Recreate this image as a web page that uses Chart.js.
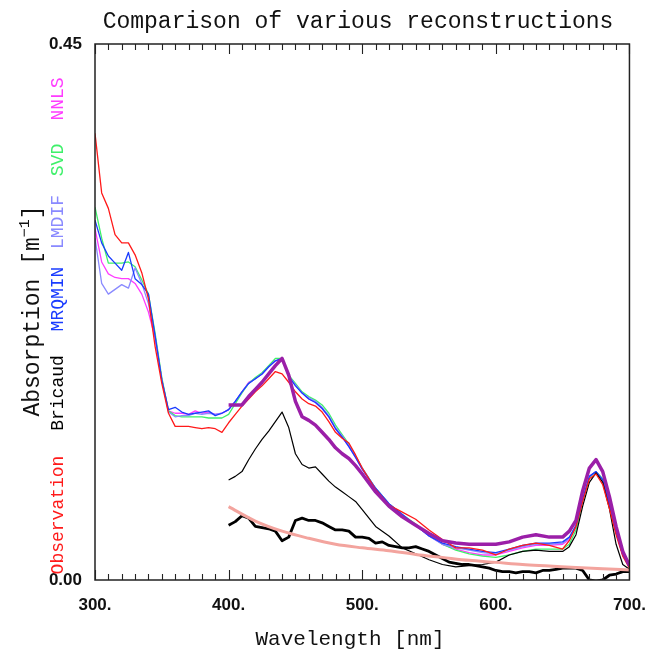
<!DOCTYPE html>
<html><head><meta charset="utf-8">
<script src="https://cdn.jsdelivr.net/npm/chart.js@4"></script>
<style>html,body{margin:0;padding:0;background:#fff}canvas{display:block}</style>
</head><body>
<canvas id="c" width="661" height="659"></canvas>
<script>
// ---------- DATA ----------
const fullWl = [300,305,310,315,320,325,330,335,340,345,350,355,360,365,370,375,380,385,390,395,
  400,405,410,415,420,425,430,435,440,445,450,455,460,465,470,475,480,485,490,495,500,
  510,520,530,540,550,560,570,580,590,600,610,620,630,640,650,
  655,660,665,670,675,680,685,690,695,700];
const visWl = [400,405,410,415,420,425,430,435,440,445,450,455,460,465,470,475,480,485,490,495,500,
  510,520,530,540,550,560,570,580,590,600,610,620,630,640,650,
  655,660,665,670,675,680,685,690,695,700];
const thickWl = [400,405,410,415,420,425,430,435,440,445,450,455,460,465,470,475,480,485,490,495,
  500,505,510,515,520,525,530,535,540,545,550,555,560,565,570,575,580,585,590,595,
  600,605,610,615,620,625,630,635,640,645,650,655,660,665,670,675,680,685,690,695,700];
const pinkWl = [400,420,440,460,480,500,520,540,560,580,600,620,640,660,680,700];

const observation = [0.375,0.325,0.312,0.290,0.283,0.283,0.273,0.258,0.236,0.196,0.165,0.140,0.129,0.129,0.129,0.128,0.127,0.128,0.127,0.124,
  0.132,0.139,0.146,0.152,0.158,0.163,0.169,0.175,0.173,0.166,0.158,0.152,0.148,0.146,0.141,0.133,0.124,0.119,0.115,0.105,0.094,
  0.076,0.063,0.057,0.051,0.042,0.034,0.027,0.027,0.025,0.021,0.026,0.029,0.031,0.029,0.026,
  0.033,0.045,0.066,0.085,0.089,0.080,0.060,0.038,0.020,0.010];
const mrqmin = [0.302,0.283,0.272,0.266,0.260,0.275,0.253,0.248,0.240,0.205,0.168,0.143,0.145,0.141,0.139,0.140,0.141,0.142,0.138,0.140,
  0.143,0.150,0.158,0.165,0.169,0.173,0.179,0.184,0.186,0.171,0.163,0.157,0.152,0.149,0.144,0.137,0.127,0.120,0.112,0.103,0.093,
  0.077,0.064,0.055,0.046,0.037,0.031,0.028,0.026,0.024,0.023,0.026,0.029,0.031,0.031,0.032,
  0.036,0.046,0.068,0.087,0.091,0.084,0.064,0.040,0.021,0.011];
const lmdif = [0.287,0.249,0.240,0.244,0.248,0.245,0.262,0.249,0.232,0.204,0.168,0.141,0.137,0.138,0.138,0.140,0.139,0.140,0.139,0.140,
  0.143,0.150,0.158,0.165,0.169,0.173,0.179,0.184,0.185,0.171,0.164,0.157,0.153,0.150,0.145,0.138,0.128,0.121,0.113,0.104,0.094,
  0.077,0.064,0.055,0.046,0.037,0.030,0.027,0.025,0.023,0.022,0.025,0.028,0.030,0.030,0.031,
  0.035,0.046,0.068,0.087,0.091,0.084,0.064,0.040,0.021,0.011];
const svd = [0.313,0.287,0.266,0.266,0.266,0.267,0.263,0.252,0.240,0.207,0.170,0.142,0.138,0.137,0.137,0.137,0.137,0.136,0.136,0.136,
  0.139,0.148,0.157,0.165,0.170,0.174,0.180,0.186,0.186,0.172,0.165,0.158,0.154,0.151,0.147,0.140,0.130,0.122,0.114,0.104,0.094,
  0.077,0.064,0.055,0.047,0.038,0.030,0.025,0.022,0.020,0.019,0.021,0.024,0.026,0.026,0.026,
  0.030,0.042,0.066,0.086,0.091,0.085,0.066,0.042,0.022,0.012];
const nnls = [0.295,0.267,0.257,0.254,0.253,0.253,0.249,0.240,0.225,0.203,0.168,0.142,0.140,0.140,0.139,0.142,0.140,0.141,0.139,0.140,
  0.143,0.150,0.158,0.166,0.169,0.173,0.179,0.184,0.186,0.171,0.164,0.157,0.152,0.149,0.144,0.137,0.127,0.120,0.112,0.103,0.093,
  0.077,0.063,0.054,0.046,0.037,0.030,0.026,0.023,0.021,0.021,0.024,0.027,0.029,0.029,0.030,
  0.034,0.045,0.067,0.087,0.091,0.084,0.064,0.040,0.021,0.011];
const totalFit = [0.147,0.147,0.147,0.154,0.160,0.166,0.173,0.180,0.186,0.172,0.150,0.137,0.134,0.130,0.124,0.118,0.111,0.106,0.102,0.096,0.089,
  0.074,0.062,0.053,0.046,0.039,0.033,0.031,0.030,0.030,0.030,0.032,0.036,0.038,0.036,0.036,
  0.041,0.050,0.075,0.094,0.101,0.091,0.070,0.045,0.024,0.012];
const bricaud = [0.084,0.087,0.091,0.101,0.110,0.118,0.125,0.133,0.141,0.128,0.106,0.097,0.094,0.095,0.089,0.083,0.078,0.074,0.070,0.066,0.059,
  0.045,0.037,0.027,0.022,0.017,0.013,0.011,0.012,0.013,0.015,0.021,0.024,0.025,0.024,0.024,
  0.028,0.038,0.062,0.082,0.090,0.082,0.060,0.030,0.013,0.009];
const detritus = [0.046,0.049,0.054,0.052,0.045,0.044,0.043,0.041,0.033,0.036,0.050,0.052,0.050,0.050,0.048,0.045,0.042,0.042,0.041,0.036,
  0.036,0.035,0.031,0.032,0.029,0.028,0.027,0.027,0.028,0.026,0.024,0.021,0.018,0.015,0.014,0.013,0.013,0.012,0.011,0.010,
  0.008,0.007,0.007,0.006,0.007,0.007,0.006,0.008,0.008,0.009,0.010,0.010,0.010,0.008,0.000,-0.001,0.000,0.004,0.005,0.007,0.007];
const cdom = [0.0616,0.0495,0.041,0.035,0.030,0.027,0.0245,0.0215,0.019,0.0165,0.0148,0.013,0.0118,0.0105,0.0094,0.0084];

const xTickValues = [300,400,500,600,700];
const xTickLabels = ['300.','400.','500.','600.','700.'];
const yTickValues = [0, 0.45];
const yTickLabels = ['0.00','0.45'];
const legendNames = ['Observation','Bricaud','MRQMIN','LMDIF','SVD','NNLS'];
const legendColors = ['#ff1a1a','#000000','#1a3cff','#8a8aff','#3ef06a','#ff3cff'];

// ---------- CHART ----------
const pts = (xs, ys) => xs.map((x, i) => ({x: x, y: ys[i]}));
const line = (label, xs, ys, color, w, extra) => Object.assign({
  label: label, data: pts(xs, ys), borderColor: color, backgroundColor: color,
  borderWidth: w, pointRadius: 0, fill: false, tension: 0, borderJoinStyle: 'round'
}, extra || {});

const decorPlugin = {
  id: 'decor',
  afterDatasetsDraw(chart) {
    const ctx = chart.ctx, a = chart.chartArea, xs = chart.scales.x;
    ctx.save();
    ctx.strokeStyle = '#222'; ctx.lineWidth = 1.5;
    ctx.strokeRect(a.left, a.top, a.right - a.left, a.bottom - a.top);
    ctx.lineWidth = 1.1; ctx.beginPath();
    for (let v = xs.min; v <= xs.max; v += 10) {
      const px = Math.round(xs.getPixelForValue(v)) + 0.5;
      const len = xTickValues.includes(v) ? 10 : 6;
      ctx.moveTo(px, a.bottom); ctx.lineTo(px, a.bottom - len);
      ctx.moveTo(px, a.top); ctx.lineTo(px, a.top + len);
    }
    ctx.stroke();
    ctx.restore();
  },
  afterDraw(chart) {
    const ctx = chart.ctx;
    ctx.save();
    ctx.fillStyle = '#111';
    ctx.textBaseline = 'middle'; ctx.textAlign = 'center';
    ctx.font = '23px "Liberation Mono", monospace';
    ctx.fillText('Comparison of various reconstructions', 358, 22);
    ctx.font = '21px "Liberation Mono", monospace';
    ctx.fillText('Wavelength [nm]', 350, 639);
    ctx.save();
    ctx.translate(33, 311); ctx.rotate(-Math.PI / 2);
    const main = '23px "Liberation Mono", monospace', sup = '15px "Liberation Mono", monospace';
    ctx.font = main; const w1 = ctx.measureText('Absorption [m').width, w3 = ctx.measureText(']').width;
    ctx.font = sup; const w2 = ctx.measureText('\u22121').width;
    let x0 = -(w1 + w2 + w3) / 2;
    ctx.textAlign = 'left';
    ctx.font = main; ctx.fillText('Absorption [m', x0, 0);
    ctx.font = sup; ctx.fillText('\u22121', x0 + w1, -8);
    ctx.font = main; ctx.fillText(']', x0 + w1 + w2, 0);
    ctx.restore();
    const centers = [515, 393, 299, 222, 160, 99];
    ctx.font = '18px "Liberation Mono", monospace';
    legendNames.forEach((n, i) => {
      ctx.save();
      ctx.translate(58, centers[i]); ctx.rotate(-Math.PI / 2);
      ctx.fillStyle = legendColors[i]; ctx.textAlign = 'center';
      ctx.fillText(n, 0, 0);
      ctx.restore();
    });
    ctx.restore();
  }
};

new Chart(document.getElementById('c'), {
  type: 'line',
  data: {
    datasets: [
      line('Total fit', visWl, totalFit, '#9b1fa8', 3.5),
      line('Observation', fullWl, observation, legendColors[0], 1.3),
      line('CDOM', pinkWl, cdom, '#f3a49e', 3, {cubicInterpolationMode: 'monotone'}),
      line('Detritus', thickWl, detritus, '#000000', 2.8),
      line('Bricaud', visWl, bricaud, '#000000', 1.2),
      line('MRQMIN', fullWl, mrqmin, legendColors[2], 1.3),
      line('LMDIF', fullWl, lmdif, legendColors[3], 1.3),
      line('SVD', fullWl, svd, legendColors[4], 1.3),
      line('NNLS', fullWl, nnls, legendColors[5], 1.3)
    ]
  },
  options: {
    responsive: false, animation: false, devicePixelRatio: 1,
    layout: {padding: {left: 0, top: 44, right: 27, bottom: 0}},
    plugins: {legend: {display: false}, tooltip: {enabled: false}, title: {display: false}},
    scales: {
      x: {
        type: 'linear', min: 300, max: 700,
        afterFit: s => { s.height = 79; },
        afterBuildTicks: s => { s.ticks = xTickValues.map(v => ({value: v})); },
        grid: {display: false, drawTicks: false},
        border: {display: false},
        ticks: {
          autoSkip: false, maxRotation: 0, padding: 15, color: '#111',
          font: {family: '"Liberation Sans", Arial, sans-serif', size: 17, weight: 'bold'},
          callback: v => xTickLabels[xTickValues.indexOf(v)]
        }
      },
      y: {
        type: 'linear', min: 0, max: 0.45,
        afterFit: s => { s.width = 95; },
        afterBuildTicks: s => { s.ticks = yTickValues.map(v => ({value: v})); },
        grid: {display: false, drawTicks: false},
        border: {display: false},
        ticks: {
          padding: 13, color: '#111',
          font: {family: '"Liberation Sans", Arial, sans-serif', size: 17, weight: 'bold'},
          callback: v => yTickLabels[yTickValues.indexOf(v)]
        }
      }
    }
  },
  plugins: [decorPlugin]
});
</script>
</body></html>
